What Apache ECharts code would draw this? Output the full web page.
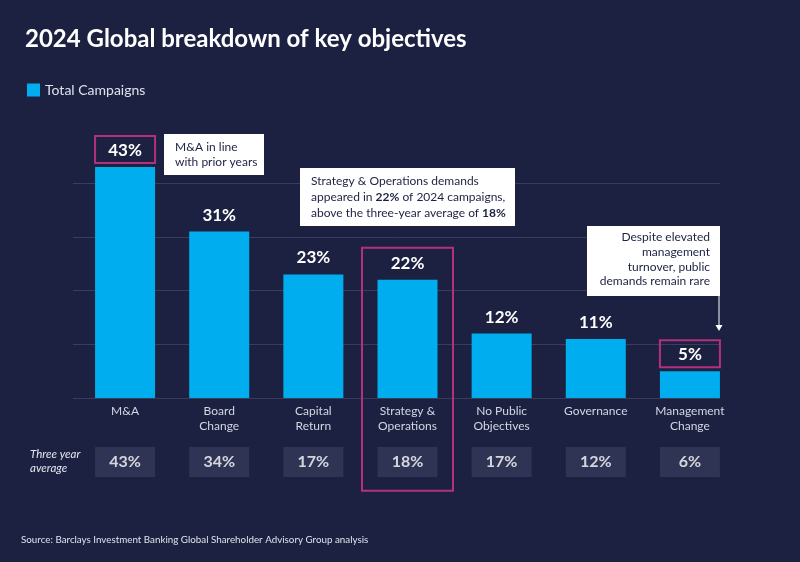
<!DOCTYPE html>
<html>
<head>
<meta charset="utf-8">
<script src="https://cdn.jsdelivr.net/npm/echarts@6/dist/echarts.min.js"></script>
<style>
html,body{margin:0;padding:0;background:#1c2142;}
#chart{width:800px;height:562px;}
</style>
</head>
<body>
<div id="chart"></div>
<script>
const categories = ['M&A', 'Board\nChange', 'Capital\nReturn', 'Strategy &\nOperations', 'No Public\nObjectives', 'Governance', 'Management\nChange'];
const totalCampaigns = [43, 31, 23, 22, 12, 11, 5];
const threeYearAvg = [43, 34, 17, 18, 17, 12, 6];

const FONT = 'Lato, "Noto Sans", sans-serif';
const BG = '#1c2142';
const BAR = '#00aeef';
const MAGENTA = '#b4307f';
const GRIDC = '#383d5e';
const DARK = '#1c2142';

const chart = echarts.init(document.getElementById('chart'), null, {renderer: 'canvas'});

const option = {
  backgroundColor: BG,
  animation: false,
  textStyle: {fontFamily: FONT},
  title: {
    text: '2024 Global breakdown of key objectives',
    left: 20, top: 22,
    textStyle: {color: '#ffffff', fontSize: 24, fontWeight: 'bold', fontFamily: FONT}
  },
  legend: {
    left: 22, top: 78,
    itemWidth: 13, itemHeight: 13, itemGap: 8,
    icon: 'rect',
    data: ['Total Campaigns'],
    textStyle: {color: '#e0e2ea', fontSize: 14, fontFamily: FONT}
  },
  grid: [
    {left: 78, right: 63, top: 129.5, height: 268.5},
    {left: 73, right: 80, top: 183.2, height: 214.8},
    {left: 78, right: 63, top: 447, height: 30}
  ],
  xAxis: [
    {
      gridIndex: 0, type: 'category', data: categories,
      axisLine: {show: false}, axisTick: {show: false},
      axisLabel: {color: '#d4d6e0', fontSize: 12, lineHeight: 15, margin: 6, fontFamily: FONT, interval: 0}
    },
    {gridIndex: 1, type: 'value', min: 0, max: 1, show: false},
    {gridIndex: 2, type: 'category', data: categories, show: false}
  ],
  yAxis: [
    {gridIndex: 0, type: 'value', min: 0, max: 50, show: false},
    {
      gridIndex: 1, type: 'value', min: 0, max: 40, interval: 10,
      axisLine: {show: false}, axisTick: {show: false}, axisLabel: {show: false},
      splitLine: {show: true, lineStyle: {color: GRIDC, width: 1}}
    },
    {gridIndex: 2, type: 'value', min: 0, max: 1, show: false}
  ],
  series: [
    {
      name: 'Total Campaigns', type: 'bar', xAxisIndex: 0, yAxisIndex: 0,
      data: totalCampaigns, barWidth: 60, z: 3,
      itemStyle: {color: BAR},
      label: {
        show: true, position: 'top', distance: 8,
        formatter: p => p.value + '%',
        color: '#ffffff', fontSize: 17, fontWeight: 'bold', fontFamily: FONT
      }
    },
    {
      name: 'grid', type: 'line', xAxisIndex: 1, yAxisIndex: 1, data: [], silent: true
    },
    {
      name: 'Three year average', type: 'scatter', xAxisIndex: 2, yAxisIndex: 2,
      symbol: 'rect', symbolSize: [60, 30], silent: true,
      itemStyle: {color: '#343859'},
      data: threeYearAvg.map(v => ({value: 0.5, avg: v})),
      label: {
        show: true, position: 'inside',
        formatter: p => p.data.avg + '%',
        color: '#ffffff', fontSize: 16, fontWeight: 'bold', fontFamily: FONT
      }
    }
  ]
};
chart.setOption(option);

const px = (i, v) => chart.convertToPixel({xAxisIndex: 0, yAxisIndex: 0}, [i, v]);
const graphics = [];

{
  const p = px(0, totalCampaigns[0]);
  graphics.push({type: 'rect', shape: {x: p[0] - 30, y: p[1] - 31, width: 60, height: 27},
    style: {fill: 'none', stroke: MAGENTA, lineWidth: 2}, z: 10});
}
{
  const p = px(6, totalCampaigns[6]);
  graphics.push({type: 'rect', shape: {x: p[0] - 30, y: p[1] - 31, width: 60, height: 27},
    style: {fill: 'none', stroke: MAGENTA, lineWidth: 2}, z: 10});
}
{
  const p = px(3, totalCampaigns[3]);
  graphics.push({type: 'rect', shape: {x: p[0] - 45.5, y: p[1] - 32, width: 91, height: 243},
    style: {fill: 'none', stroke: MAGENTA, lineWidth: 2}, z: 10});
}

graphics.push({type: 'rect', shape: {x: 164, y: 134, width: 100, height: 41}, style: {fill: '#ffffff'}, z: 10});
graphics.push({type: 'text', x: 175, y: 139, z: 11,
  style: {text: 'M&A in line\nwith prior years', fill: DARK, font: '12px ' + FONT, lineHeight: 15.5}});

graphics.push({type: 'rect', shape: {x: 300, y: 168, width: 215, height: 58}, style: {fill: '#ffffff'}, z: 10});
graphics.push({type: 'text', x: 311, y: 173, z: 11,
  style: {
    text: 'Strategy & Operations demands\nappeared in {b|22%} of 2024 campaigns,\nabove the three-year average of {b|18%}',
    fill: DARK, font: '12px ' + FONT, lineHeight: 16,
    rich: {b: {fontWeight: 'bold', fontSize: 12, fontFamily: FONT, fill: DARK, lineHeight: 16}}
  }});

graphics.push({type: 'rect', shape: {x: 587, y: 226, width: 133, height: 70}, style: {fill: '#ffffff'}, z: 10});
graphics.push({type: 'text', x: 710, y: 230, z: 11,
  style: {
    text: 'Despite elevated\nmanagement\nturnover, public\ndemands remain rare',
    fill: DARK, font: '12px ' + FONT, lineHeight: 14.7, align: 'right'
  }});
graphics.push({type: 'line', shape: {x1: 719, y1: 296, x2: 719, y2: 327}, style: {stroke: '#ffffff', lineWidth: 1}, z: 10});
graphics.push({type: 'polygon', shape: {points: [[715.5, 325], [722.5, 325], [719, 331]]}, style: {fill: '#ffffff'}, z: 10});

graphics.push({type: 'text', x: 30, y: 447, z: 11,
  style: {text: 'Three year\naverage', fill: '#e6e7ee', font: 'italic 11.5px ' + FONT, lineHeight: 14.5}});

graphics.push({type: 'text', x: 21, y: 535, z: 11,
  style: {text: 'Source: Barclays Investment Banking Global Shareholder Advisory Group analysis', fill: '#e0e2ea', font: '9.8px ' + FONT}});

chart.setOption({graphic: graphics});
</script>
</body>
</html>
